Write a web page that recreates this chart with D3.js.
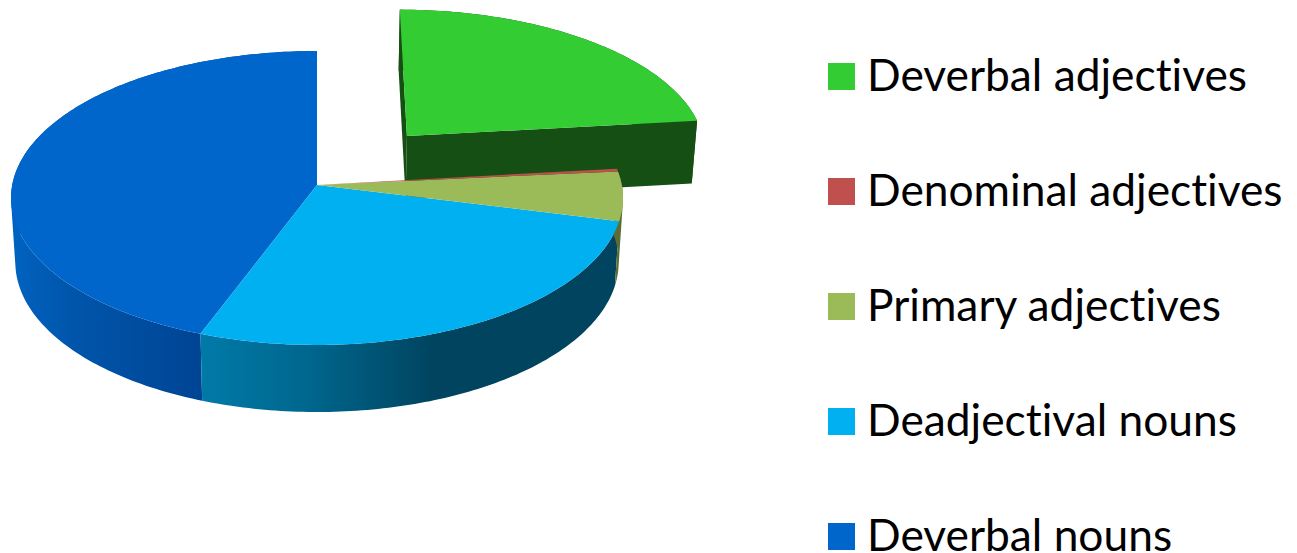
<!DOCTYPE html>
<html>
<head>
<meta charset="utf-8">
<title>Pie</title>
<script src="https://cdnjs.cloudflare.com/ajax/libs/d3/7.8.5/d3.min.js"></script>
<style>
  html, body { margin: 0; padding: 0; background: #fff; }
  svg { display: block; }
  text { font-family: Lato, "Open Sans", sans-serif; fill: #000; font-variant-ligatures: none; }
</style>
</head>
<body>
<div id="viz"></div>
<script>
var categories = ['Deverbal adjectives', 'Denominal adjectives', 'Primary adjectives', 'Deadjectival nouns', 'Deverbal nouns'];
var values = [23.2, 0.3, 5.4, 26.8, 44.3];
var topColors = ['#33cc33', '#c0504d', '#9bbb59', '#00b0f0', '#0066cc'];
var wallColors = ['#164f14', '#6e2d2b', '#5a6d33', '#00445f', '#004494'];

var width = 1297, height = 553;
var svg = d3.select('#viz').append('svg').attr('width', width).attr('height', height);

// the disc is a unit circle seen in perspective, top face and bottom face
var topFace = { cx: 317, cy: 185, a: 304.8, b: 145.8, k: 0.0884 };
var bottomFace = { cx: 317, cy: 249, a: 300.5, b: 148.6, k: 0.0884 };
var explode = [0.304, -0.346]; // only the first slice is pulled out

function project(face, u, v) {
  var w = 1 - face.k * v;
  return [face.cx + face.a * u / w, face.cy + face.b * v / w];
}

function rim(face, d, off) {
  var n = Math.max(2, Math.ceil((d.endAngle - d.startAngle) * 60));
  return d3.range(n + 1).map(function(i) {
    var t = d.startAngle + (d.endAngle - d.startAngle) * i / n;
    return project(face, off[0] + Math.sin(t), off[1] - Math.cos(t));
  });
}

var line = d3.line().curve(d3.curveLinear);
var arcs = d3.pie().sort(null)(values);

var defs = svg.append('defs');
function gradient(id, x1, x2, stops) {
  var g = defs.append('linearGradient').attr('id', id)
    .attr('gradientUnits', 'userSpaceOnUse')
    .attr('x1', x1).attr('x2', x2).attr('y1', 0).attr('y2', 0);
  stops.forEach(function(s) {
    g.append('stop').attr('offset', s[0]).attr('stop-color', s[1]);
  });
}
gradient('wall3', 200, 625, [[0, '#007aa8'], [0.25, '#00678e'], [0.55, '#00445f'], [1, '#00445f']]);
gradient('wall4', 14, 200, [[0, '#0062c0'], [0.3, '#0056ab'], [1, '#004494']]);

function wallFill(i) {
  if (i === 3) return 'url(#wall3)';
  if (i === 4) return 'url(#wall4)';
  return wallColors[i];
}

function drawSlice(d, i, part) {
  var off = i === 0 ? explode : [0, 0];
  var top = rim(topFace, d, off);
  var bottom = rim(bottomFace, d, off);
  var apexTop = project(topFace, off[0], off[1]);
  var apexBottom = project(bottomFace, off[0], off[1]);
  if (part === 'wall') {
    // outer rim: quads in one path, all wound the same way, so nonzero fill gives their union
    var rimPath = d3.range(top.length - 1).map(function(j) {
      var quad = [top[j], top[j + 1], bottom[j + 1], bottom[j]];
      if (d3.polygonArea(quad) < 0) quad.reverse();
      return line(quad) + 'Z';
    }).join('');
    svg.append('path').attr('d', rimPath).attr('fill', wallFill(i));
    if (i === 0) {
      svg.append('path').attr('d', line([top[0], apexTop, apexBottom, bottom[0]]) + 'Z').attr('fill', wallColors[0]);
      svg.append('path').attr('d', line([apexTop, top[top.length - 1], bottom[bottom.length - 1], apexBottom]) + 'Z').attr('fill', wallColors[0]);
    }
  } else {
    svg.append('path').attr('d', line([apexTop].concat(top)) + 'Z').attr('fill', topColors[i]);
  }
}

// exploded slice goes behind the rest of the disc
drawSlice(arcs[0], 0, 'wall');
drawSlice(arcs[0], 0, 'top');
[4, 3, 2, 1].forEach(function(i) { drawSlice(arcs[i], i, 'wall'); });
[4, 3, 2, 1].forEach(function(i) { drawSlice(arcs[i], i, 'top'); });

// legend
var legendY = d3.scalePoint().domain(categories).range([63, 523]);
var legend = svg.selectAll('g.item').data(categories).enter().append('g').attr('class', 'item')
  .attr('transform', function(d) { return 'translate(828,' + legendY(d) + ')'; });
legend.append('rect').attr('width', 27).attr('height', 27)
  .attr('fill', function(d, i) { return topColors[i]; });
legend.append('text').attr('x', 39).attr('y', 28).attr('font-size', 44.3)
  .text(function(d) { return d; });
</script>
</body>
</html>
